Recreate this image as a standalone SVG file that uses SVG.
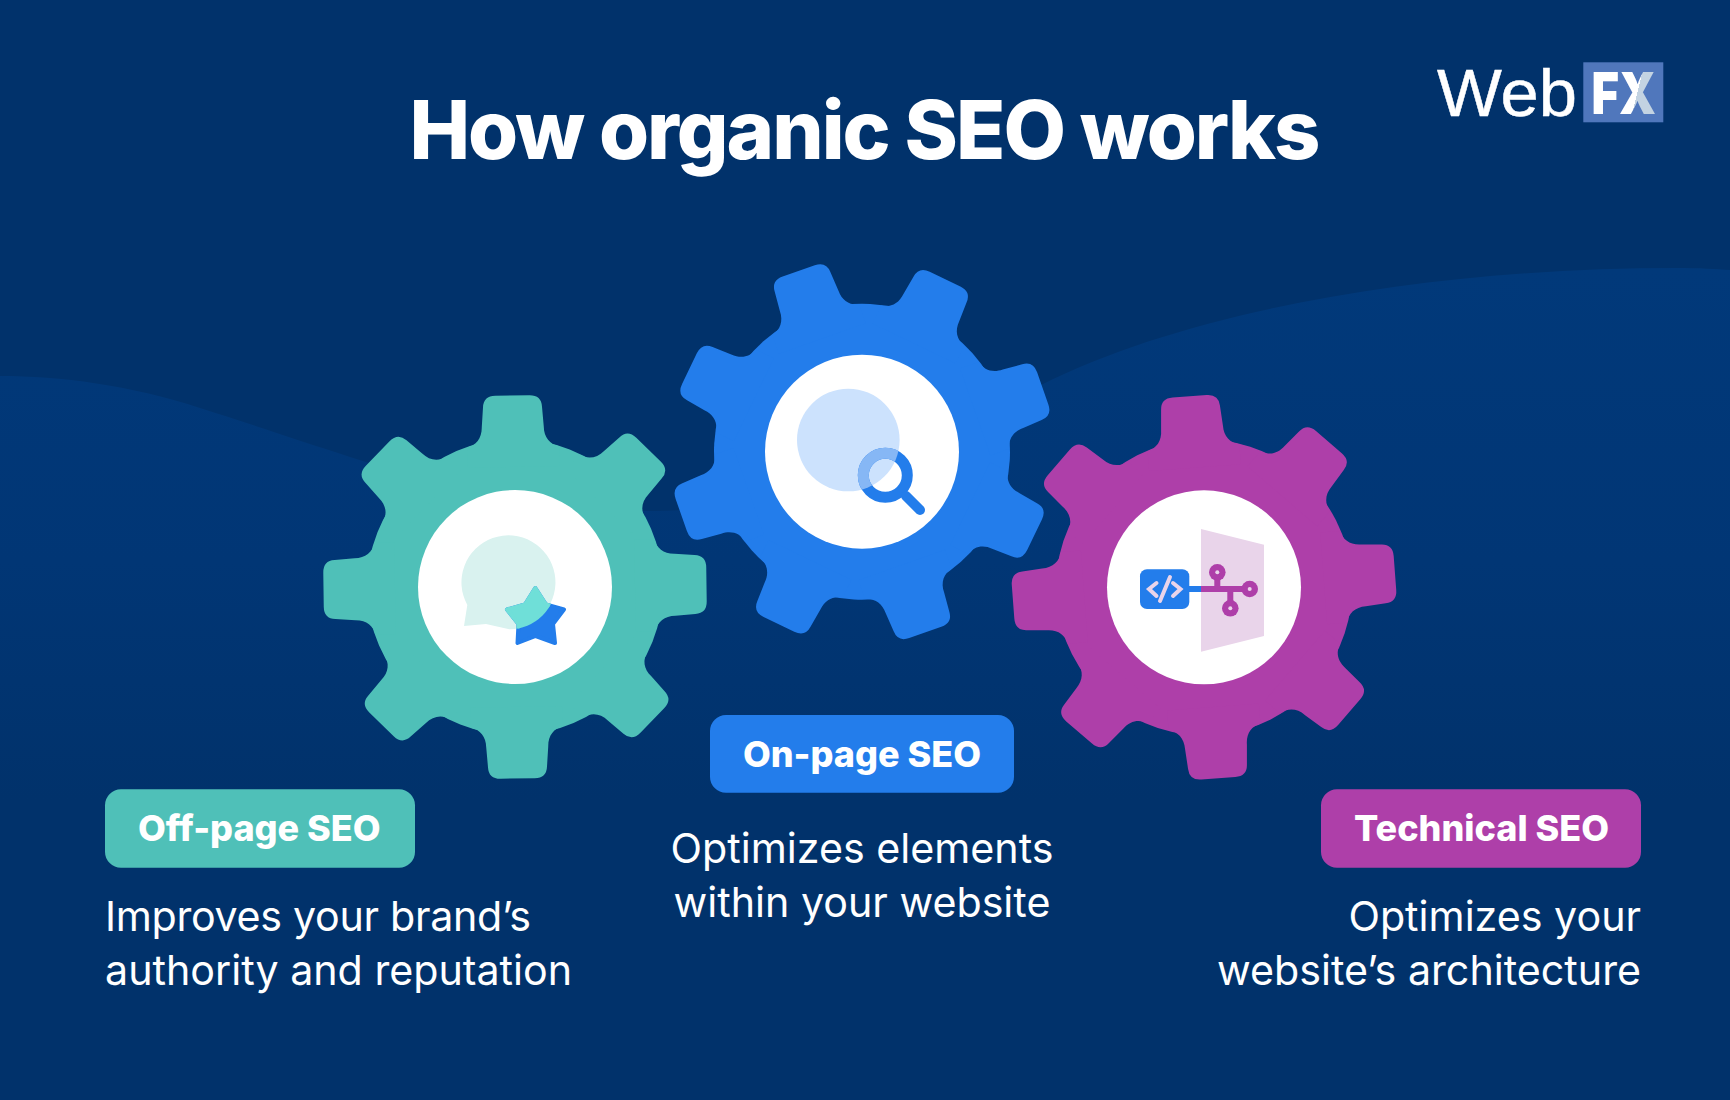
<svg xmlns="http://www.w3.org/2000/svg" xmlns:xlink="http://www.w3.org/1999/xlink" width="1730" height="1100" viewBox="0 0 1730 1100">
<style>
text{font-family:Inter,"Liberation Sans",sans-serif;fill:#fff}
.title{font-size:81px;font-weight:800;letter-spacing:-2px}
.pill{font-size:36px;font-weight:800}
.desc{font-size:41.2px;font-weight:400}
.teal{fill:#4FC0B8}.blue{fill:#237DEB}.purple{fill:#AE3FA9}
.hub{fill:#fff}
.m{text-anchor:middle}.e{text-anchor:end}
</style>
<defs>
<linearGradient id="wave" gradientUnits="userSpaceOnUse" x1="0" y1="270" x2="0" y2="800">
<stop offset="0" stop-color="#01397A"/><stop offset="0.55" stop-color="#013675"/><stop offset="1" stop-color="#01326B"/>
</linearGradient>
<linearGradient id="fxx" gradientUnits="userSpaceOnUse" x1="1632" y1="80" x2="1648" y2="84">
<stop offset="0.5" stop-color="#fff"/><stop offset="0.5" stop-color="#C3D3E2"/>
</linearGradient>
<path id="tooth" d="M-46,-140C-37,-142 -31,-149 -31,-160L-29.5,-180Q-29,-191.5 -17,-191.5L17,-191.5Q29,-191.5 29.5,-180L31,-160C31,-149 37,-142 46,-140L46,-120L-46,-120Z"/>
<g id="gear">
<circle r="148"/>
<use href="#tooth"/>
<use href="#tooth" transform="rotate(45)"/>
<use href="#tooth" transform="rotate(90)"/>
<use href="#tooth" transform="rotate(135)"/>
<use href="#tooth" transform="rotate(180)"/>
<use href="#tooth" transform="rotate(225)"/>
<use href="#tooth" transform="rotate(270)"/>
<use href="#tooth" transform="rotate(315)"/>
</g>
<clipPath id="bubbleClip"><circle cx="509.3" cy="582.3" r="47"/></clipPath>
<clipPath id="lensClip"><circle cx="848.3" cy="440" r="51.3"/></clipPath>
<path id="star" d="M535.3,588L546,604.5L564,609.5L553,624L555,643L535.7,636L517.5,643L518.5,624L507,609.5L525,604.5Z" stroke-width="4" stroke-linejoin="round"/>
</defs>

<rect id="background" width="1730" height="1100" fill="#01326B"/>
<path id="wave-band" fill="url(#wave)" d="M0,376C60,376 130,385 200,408C270,430 370,465 440,484C520,505 590,511 650,511C770,513 920,445 1041,385C1200,305 1450,268 1677,268C1700,268 1715,269 1730,270L1730,1100L0,1100Z"/>

<text id="title" class="title m" x="864" y="159">How organic SEO works</text>

<g id="logo">
<text x="1437" y="115.7" style="font-family:'Liberation Sans',Arial,sans-serif;font-size:66px" stroke="#fff" stroke-width="0.5" textLength="140" lengthAdjust="spacingAndGlyphs">Web</text>
<rect x="1583.3" y="62.3" width="80" height="60" fill="#5077BC"/>
<text x="1591.5" y="114" style="font-size:58px;font-weight:900;fill:url(#fxx)" textLength="64.5" lengthAdjust="spacingAndGlyphs">FX</text>
</g>

<g id="connectors"></g>

<g id="node-off-page">
<use href="#gear" class="teal" transform="translate(515,587) rotate(-0.8)"/>
<circle class="hub" cx="515" cy="587" r="97"/>
<path fill="#D9F2EF" d="M467.3,605L464,626L486,624L509.3,629.3A47,47 0 1 0 467.3,605Z"/>
<use href="#star" fill="#237DEB" stroke="#237DEB"/>
<g clip-path="url(#bubbleClip)"><use href="#star" fill="#6FDFD8" stroke="#6FDFD8"/></g>
<rect class="teal" x="105" y="789.3" width="310" height="78.4" rx="16"/>
<text class="pill" x="138" y="841.2">Off-page SEO</text>
<text class="desc" x="105" y="931.4" style="letter-spacing:-0.3px">Improves your brand’s</text>
<text class="desc" x="105" y="984.8">authority and reputation</text>
</g>

<g id="node-on-page">
<use href="#gear" class="blue" transform="translate(862,451.7) rotate(25.7)"/>
<circle class="hub" cx="862" cy="451.7" r="97"/>
<circle cx="848.3" cy="440" r="51.3" fill="#CCE2FD"/>
<g fill="none" stroke="#237DEB" stroke-width="11" stroke-linecap="round">
<circle cx="885.3" cy="475.3" r="22"/>
<path d="M906,496L920,510" stroke-width="10"/>
</g>
<g clip-path="url(#lensClip)"><circle cx="885.3" cy="475.3" r="22" fill="none" stroke="#86B7F5" stroke-width="11"/></g>
<rect class="blue" x="710" y="715" width="304" height="77.7" rx="16"/>
<text class="pill m" x="862" y="766.5">On-page SEO</text>
<text class="desc m" x="862" y="863">Optimizes elements</text>
<text class="desc m" x="862" y="917.3">within your website</text>
</g>

<g id="node-technical">
<use href="#gear" class="purple" transform="translate(1204,587.3) rotate(-4.3)"/>
<circle class="hub" cx="1204" cy="587.3" r="97"/>
<polygon fill="#E9D4EA" points="1201,529 1264,544.7 1264,636 1201,651.7"/>
<rect class="blue" x="1140" y="569.3" width="49.3" height="39.7" rx="7"/>
<rect class="blue" x="1189" y="586" width="12" height="6"/>
<g fill="none" stroke="#AE3FA9" stroke-width="6">
<path d="M1201,589H1245M1217.3,575V589M1230.3,589V605"/>
</g>
<g class="purple">
<circle cx="1217.3" cy="572.3" r="8.3"/><circle cx="1249.7" cy="589" r="8.3"/><circle cx="1230.3" cy="608.3" r="8.3"/>
</g>
<g fill="#E9D4EA">
<circle cx="1217.3" cy="572.3" r="2"/><circle cx="1249.7" cy="589" r="2"/><circle cx="1230.3" cy="608.3" r="2"/>
</g>
<path fill="none" stroke="#E9D4EA" stroke-width="4" stroke-linecap="round" d="M1156.5,583L1149,589L1156.5,596M1173,583L1180.5,589L1173,596M1170,577L1160,601"/>
<rect class="purple" x="1321" y="789.3" width="320" height="78.4" rx="16"/>
<text class="pill" x="1354" y="841.2">Technical SEO</text>
<text class="desc e" x="1641" y="931.4">Optimizes your</text>
<text class="desc e" x="1641" y="984.8">website’s architecture</text>
</g>
</svg>
